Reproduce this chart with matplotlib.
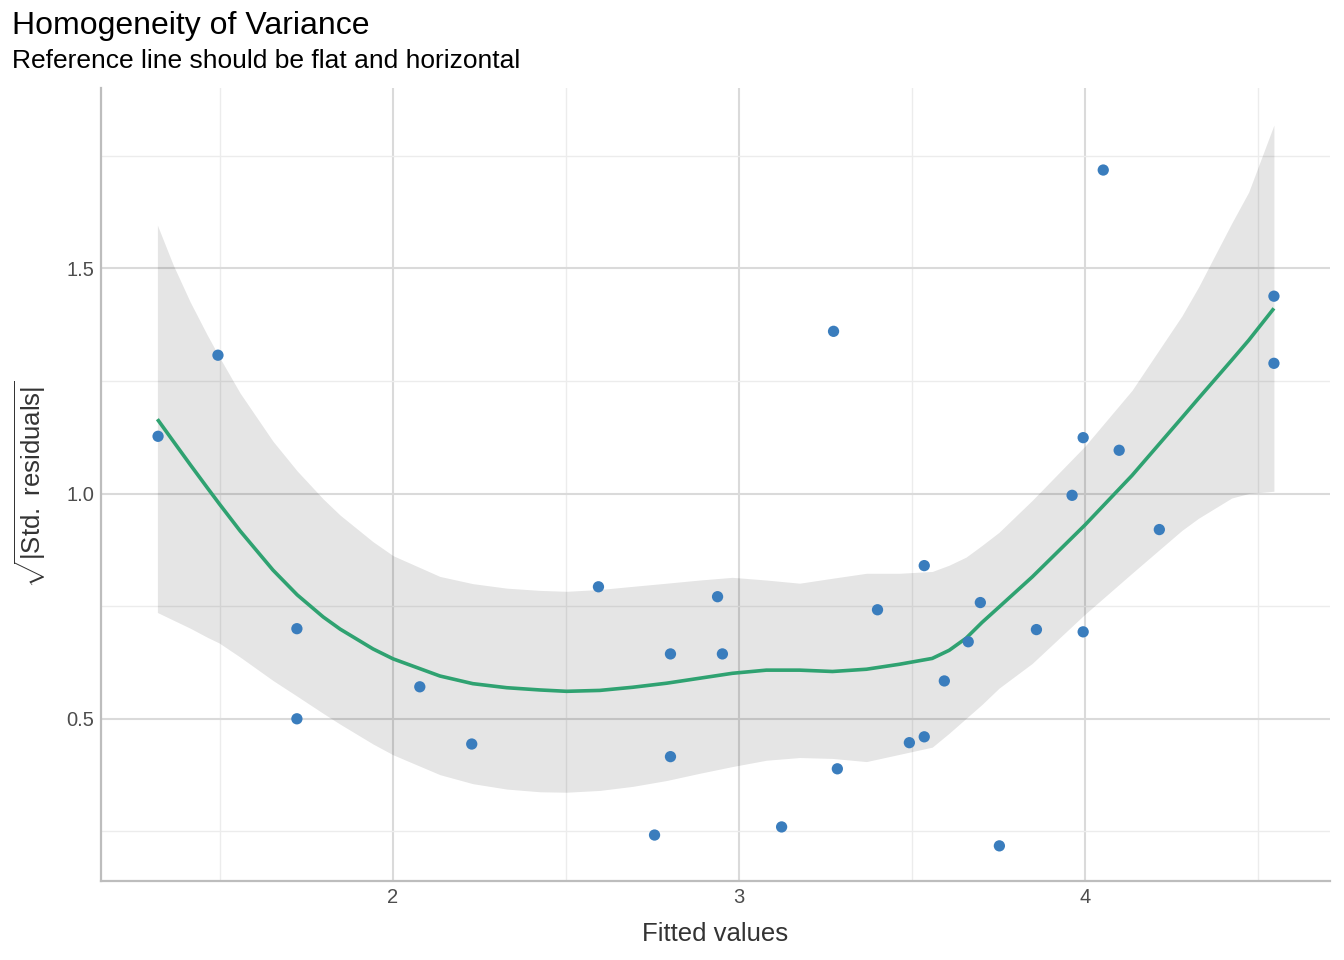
import matplotlib
matplotlib.use("Agg")
import matplotlib.pyplot as plt
from matplotlib.ticker import MultipleLocator, FormatStrFormatter

plt.rcParams["font.family"] = ["Liberation Sans", "DejaVu Sans"]
plt.rcParams["mathtext.fontset"] = "custom"
plt.rcParams["mathtext.rm"] = "Liberation Sans"

# observed points: fitted values vs sqrt(|std. residuals|)
fitted = [1.322, 1.495, 1.723, 1.723, 2.078, 2.228, 2.594, 2.756, 2.802, 2.802,
          2.938, 2.952, 3.123, 3.273, 3.284, 3.400, 3.492, 3.535, 3.535, 3.593,
          3.662, 3.697, 3.752, 3.859, 3.962, 3.994, 3.994, 4.052, 4.098, 4.214,
          4.545, 4.545]
sqrt_resid = [1.127, 1.307, 0.700, 0.500, 0.571, 0.444, 0.793, 0.242, 0.644, 0.416,
              0.771, 0.644, 0.260, 1.360, 0.389, 0.742, 0.447, 0.840, 0.460, 0.584,
              0.671, 0.758, 0.218, 0.698, 0.996, 1.124, 0.693, 1.718, 1.096, 0.920,
              1.438, 1.289]

# loess smooth and its confidence band
smooth_x = [1.320, 1.366, 1.415, 1.464, 1.499, 1.559, 1.654, 1.724, 1.799, 1.848,
            1.943, 2.001, 2.136, 2.231, 2.329, 2.425, 2.502, 2.598, 2.693, 2.791,
            2.886, 2.981, 3.079, 3.175, 3.270, 3.368, 3.463, 3.558, 3.607, 3.656,
            3.702, 3.751, 3.847, 3.999, 4.135, 4.279, 4.327, 4.423, 4.472, 4.545]
smooth_y = [1.165, 1.116, 1.064, 1.013, 0.977, 0.917, 0.830, 0.775, 0.726, 0.699,
            0.655, 0.633, 0.595, 0.578, 0.569, 0.564, 0.561, 0.563, 0.570, 0.579,
            0.590, 0.601, 0.608, 0.608, 0.605, 0.610, 0.621, 0.634, 0.652, 0.679,
            0.714, 0.748, 0.815, 0.930, 1.040, 1.168, 1.211, 1.296, 1.340, 1.411]
band_hi = [1.596, 1.507, 1.425, 1.352, 1.303, 1.223, 1.116, 1.050, 0.988, 0.952,
           0.893, 0.862, 0.816, 0.800, 0.790, 0.785, 0.783, 0.787, 0.794, 0.801,
           0.808, 0.814, 0.808, 0.801, 0.812, 0.823, 0.823, 0.827, 0.841, 0.859,
           0.885, 0.914, 0.985, 1.105, 1.229, 1.394, 1.458, 1.600, 1.669, 1.818]
band_lo = [0.736, 0.719, 0.701, 0.681, 0.668, 0.637, 0.585, 0.550, 0.512, 0.488,
           0.444, 0.420, 0.376, 0.356, 0.344, 0.338, 0.337, 0.341, 0.350, 0.363,
           0.379, 0.394, 0.408, 0.414, 0.412, 0.405, 0.421, 0.437, 0.468, 0.501,
           0.532, 0.568, 0.623, 0.732, 0.823, 0.918, 0.945, 0.990, 1.000, 1.005]

DOT = "#3a7dbd"
LINE = "#2fa271"
TICK = "#4d4d4d"
LABEL = "#333333"

fig = plt.figure(figsize=(13.44, 9.6), dpi=100)
ax = fig.add_axes([0.0751, 0.0823, 0.9145, 0.826])

ax.fill_between(smooth_x, band_lo, band_hi, color="black", alpha=0.1,
                linewidth=0, zorder=2)
ax.plot(smooth_x, smooth_y, color=LINE, lw=2.6, zorder=3,
        solid_capstyle="butt", solid_joinstyle="round")
ax.scatter(fitted, sqrt_resid, s=66, color=DOT, edgecolor="none", zorder=4)

ax.set_xlim(1.157, 4.707)
ax.set_ylim(0.14, 1.90)
ax.xaxis.set_major_locator(MultipleLocator(1))
ax.xaxis.set_minor_locator(MultipleLocator(0.5))
ax.yaxis.set_major_locator(MultipleLocator(0.5))
ax.yaxis.set_minor_locator(MultipleLocator(0.25))
ax.yaxis.set_major_formatter(FormatStrFormatter("%.1f"))

ax.grid(which="major", color="#dadada", lw=1.5, zorder=0)
ax.grid(which="minor", color="#ececec", lw=1.0, zorder=0)
ax.set_axisbelow(True)

for side in ("top", "right"):
    ax.spines[side].set_visible(False)
for side in ("left", "bottom"):
    ax.spines[side].set_color("#bdbdbd")
    ax.spines[side].set_linewidth(1.6)

ax.tick_params(which="both", length=0, labelsize=14.5, labelcolor=TICK, pad=5)

ax.set_xlabel("Fitted values", fontsize=18.5, color=LABEL, labelpad=11)
ax.set_ylabel(r"$\sqrt{|\mathrm{Std.}\;\mathrm{residuals}|}$", fontsize=18.5,
              color=LABEL, labelpad=13)

fig.text(0.009, 0.973, "Homogeneity of Variance", fontsize=23, color="black",
         va="center", ha="left")
fig.text(0.009, 0.9365, "Reference line should be flat and horizontal",
         fontsize=19, color="black", va="center", ha="left")

fig.savefig("out.png", dpi=100, facecolor="white")
